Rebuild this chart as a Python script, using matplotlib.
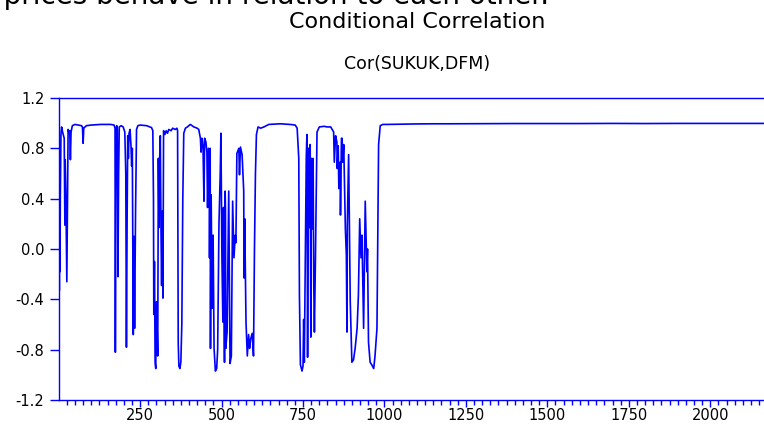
import numpy as np
import matplotlib
matplotlib.use("Agg")
import matplotlib.pyplot as plt
from matplotlib.ticker import MultipleLocator, FormatStrFormatter

plt.rcParams['font.family'] = ['DejaVu Sans']
plt.rcParams['axes.unicode_minus'] = False

obs_active = [1, 2, 3, 4, 5, 7, 9, 12, 15, 17, 19, 20, 22, 25, 27, 29, 32, 34, 36, 38,
              42, 50, 60, 70, 73, 75, 77, 85, 100, 130, 160, 170, 173, 174, 176, 178, 180,
              182, 184, 186, 192, 198, 203, 206, 208, 210, 212, 214, 216, 219, 222, 224,
              226, 229, 231, 233, 236, 239, 243, 250, 270, 285, 289, 291, 292, 294, 296,
              298, 300, 302, 304, 306, 308, 310, 312, 314, 316, 318, 320, 322, 326, 330,
              334, 338, 345, 350, 358, 363, 365, 367, 369, 372, 375, 378, 381, 384, 389,
              395, 404, 415, 425, 430, 435, 437, 440, 443, 446, 448, 452, 455, 457, 460,
              462, 463, 465, 466, 468, 471, 474, 477, 481, 485, 488, 492, 496, 498, 501,
              504, 506, 509, 511, 512, 513, 517, 522, 526, 530, 534, 538, 542, 544, 547,
              553, 555, 558, 563, 568, 569, 571, 575, 579, 583, 586, 589, 594, 598, 601,
              604, 607, 612, 620, 630, 645, 680, 710, 726, 732, 737, 739, 742, 747, 750,
              752, 754, 757, 760, 762, 764, 767, 769, 772, 774, 776, 778, 781, 783, 785,
              788, 793, 800, 815, 824, 835, 844, 846, 850, 854, 855, 858, 860, 864, 865,
              868, 870, 872, 875, 880, 883, 885, 886, 890, 895, 900, 905, 910, 916, 920,
              924, 928, 931, 936, 941, 946, 948, 951, 956, 961, 967, 971, 977, 982, 987,
              995, 1010]
cor_active = [0.75, -0.33, 0.73, -0.18, 0.40, 0.91, 0.97, 0.93, 0.90, 0.88, 0.19, 0.71, 0.45,
              -0.26, 0.40, 0.95, 0.92, 0.94, 0.71, 0.93,
              0.98, 0.99, 0.985, 0.98, 0.97, 0.84, 0.96, 0.98, 0.985, 0.99, 0.99, 0.985, 0.96,
              -0.82, 0.90, 0.98, 0.95,
              -0.22, 0.60, 0.97, 0.98, 0.97, 0.93, 0.60, -0.78, 0.20, 0.90, 0.72, 0.92, 0.95,
              0.82, 0.66,
              0.80, -0.68, 0.10, -0.63, 0.30, 0.95, 0.98, 0.985, 0.98, 0.965, 0.94, 0.40,
              -0.52, -0.10, -0.90,
              -0.95, -0.42, -0.60, -0.85, 0.72, 0.17, 0.72, 0.90, 0.17, -0.29, 0.30, -0.39,
              0.94, 0.91, 0.94,
              0.92, 0.95, 0.94, 0.96, 0.95, 0.96, 0.94, -0.75, -0.93, -0.95, -0.90, -0.60,
              0.40, 0.92, 0.96,
              0.97, 0.99, 0.97, 0.96, 0.95, 0.88, 0.77, 0.88, 0.82, 0.38, 0.88, 0.85, 0.77,
              0.33, 0.80,
              0.78, -0.07, 0.80, -0.79, 0.43, -0.47, 0.11, -0.79, -0.97, -0.95, -0.80, 0.20,
              0.61, 0.92, -0.05,
              -0.58, 0.33, -0.90, 0.46, 0.31, -0.79, -0.66, 0.46, -0.91, -0.85, 0.38, -0.07,
              0.11, 0.05, 0.76,
              0.80, 0.59, 0.81, 0.75, 0.46, -0.23, 0.24, -0.58, -0.85, -0.68, -0.79, -0.72,
              -0.67, -0.85, 0.0,
              0.60, 0.91, 0.97, 0.96, 0.97, 0.99, 0.995, 0.99, 0.985, 0.96, 0.72, -0.37,
              -0.92, -0.97, -0.93,
              -0.56, -0.90, -0.12, 0.73, 0.91, -0.86, 0.80, 0.17, 0.83, -0.70, 0.72, 0.16,
              0.72, -0.29, -0.66,
              -0.10, 0.93, 0.97, 0.975, 0.97, 0.97, 0.93, 0.69, 0.90, 0.85, 0.64, 0.82, 0.48,
              0.69, 0.27,
              0.88, 0.88, 0.69, 0.83, 0.16, -0.05, -0.66, 0.19, 0.75, -0.42, -0.90, -0.88,
              -0.79, -0.63, -0.37,
              0.24, -0.07, 0.11, -0.63, 0.38, -0.18, 0.00, -0.74, -0.90, -0.92, -0.95, -0.85,
              -0.63, 0.83, 0.98,
              0.99, 0.99]

# calm period after ~1000, correlation sits just under 1
obs_calm = [1050, 1100, 1150, 1200, 1300, 1400, 1500, 1600, 1700, 1800, 1900, 2000, 2100, 2200]
cor_calm = [0.992, 0.994, 0.995, 0.995, 0.996, 0.997, 0.997, 0.997, 0.998, 0.997, 0.998,
            0.998, 0.998, 0.998]

x = obs_active + obs_calm
y = cor_active + cor_calm

fig = plt.figure(figsize=(7.64, 4.24), dpi=100)
ax = fig.add_axes([59 / 764, 24 / 424, 1 - 59 / 764, 302 / 424])

ax.plot(x, y, color='#0000FF', lw=1.2)

ax.set_xlim(1, 2165)
ax.set_ylim(-1.2, 1.2)
ax.xaxis.set_major_locator(MultipleLocator(250))
ax.xaxis.set_minor_locator(MultipleLocator(25))
ax.yaxis.set_major_locator(MultipleLocator(0.4))
ax.yaxis.set_major_formatter(FormatStrFormatter('%.1f'))

for s in ['left', 'bottom', 'top']:
    ax.spines[s].set_color('#0000FF')
    ax.spines[s].set_linewidth(1.0)
ax.spines['right'].set_visible(False)

ax.tick_params(axis='both', which='both', color='#0000FF', labelcolor='black', labelsize=10.5)
ax.tick_params(axis='x', which='major', length=5, width=1, pad=1)
ax.tick_params(axis='x', which='minor', length=3.5, width=1)
ax.tick_params(axis='y', which='major', length=6.5, width=1, pad=4)

fig.text(417.5 / 764, 1 - 22 / 424, 'Conditional Correlation', ha='center', va='center', fontsize=16)
fig.text(417.5 / 764, 1 - 64 / 424, 'Cor(SUKUK,DFM)', ha='center', va='center', fontsize=12.5)
# cut-off line of document text above the chart
fig.text(549 / 764, 1 - 4 / 424, 'their prices behave in relation to each other.',
         ha='right', va='baseline', fontsize=20)

fig.savefig('out.png', dpi=100)
